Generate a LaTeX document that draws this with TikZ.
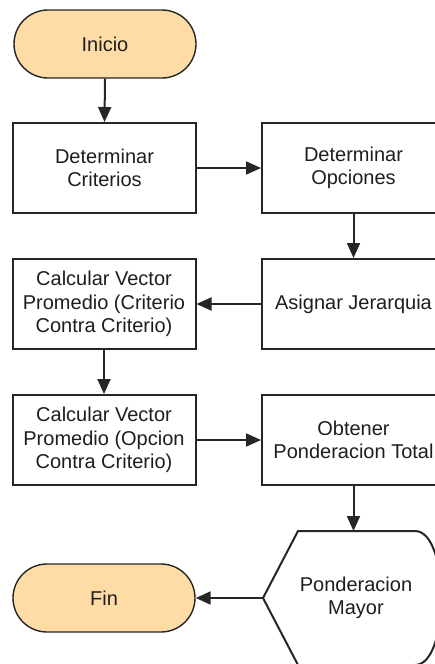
\documentclass[tikz,border=0pt]{standalone}
\usepackage{fontspec}
\setmainfont{Liberation Sans}
\usetikzlibrary{arrows.meta, positioning}
\definecolor{fTerm}{HTML}{FFDCA6}
\definecolor{fLine}{HTML}{262626}
\definecolor{fText}{HTML}{1E1E1E}

\begin{document}
\begin{tikzpicture}[x=1pt, y=-1pt, every node/.style={font=\fontsize{20}{23.5}\selectfont, text=fText, align=center},
  term/.style={draw=fLine, line width=1.4pt, fill=fTerm, rounded corners=34pt,
               minimum width=182pt, minimum height=68pt},
  proc/.style={draw=fLine, line width=2pt, fill=white, minimum width=183pt, minimum height=90pt},
  flow/.style={-{Triangle[length=15pt, width=13pt]}, line width=2pt, fLine}]
  \clip (0,0) rectangle (435,664);
  % start and end
  \node[term] (inicio) at (105,44) {Inicio};
  \node[term] (fin) at (104,598) {Fin};
  % steps
  \node[proc] (crit) at (104.5,168) {Determinar\\Criterios};
  \node[proc] (opc) at (353.5,168) {Determinar\\Opciones};
  \node[proc] (asig) at (353.5,304) {Asignar Jerarquia};
  \node[proc] (calcA) at (104,304) {Calcular Vector\\Promedio (Criterio\\Contra Criterio)};
  \node[proc] (calcB) at (104,440) {Calcular Vector\\Promedio (Opcion\\Contra Criterio)};
  \node[proc] (total) at (353.5,440) {Obtener\\Ponderacion Total};
  % display shape
  \coordinate (mayorTop) at (353.5,531);
  \coordinate (mayorLeft) at (263,598);
  \draw[line width=2pt, fLine, fill=white] (mayorLeft) -- (298,531) -- (415,531)
    .. controls (450,531) and (450,665) .. (415,665) -- (298,665) -- cycle;
  \node (mayor) at (356,598) {Ponderacion\\Mayor};
  % connectors
  \draw[flow] (inicio.south) -- (crit.north);
  \draw[flow] (crit.east) -- (opc.west);
  \draw[flow] (opc.south) -- (asig.north);
  \draw[flow] (asig.west) -- (calcA.east);
  \draw[flow] (calcA.south) -- (calcB.north);
  \draw[flow] (calcB.east) -- (total.west);
  \draw[flow] (total.south) -- (mayorTop);
  \draw[flow] (mayorLeft) -- (fin.east);
\end{tikzpicture}
\end{document}
